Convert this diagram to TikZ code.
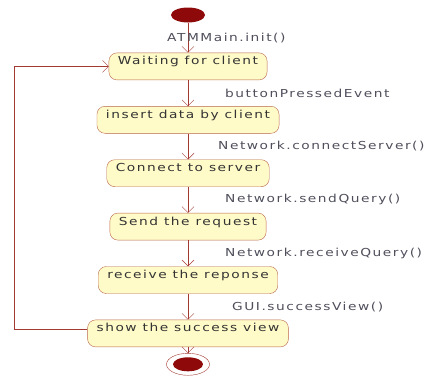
\documentclass[tikz,border=0pt]{standalone}
\usepackage{fontspec}
\newfontfamily\umlfont[LetterSpace=14, FakeStretch=1.25]{DejaVu Sans}
\usetikzlibrary{positioning,shapes.geometric,arrows.meta}
\definecolor{umlline}{HTML}{A33A32}
\definecolor{umlfill}{HTML}{FFFBC8}
\definecolor{umlborder}{HTML}{B8674A}
\definecolor{umldot}{HTML}{8E0A0A}
\definecolor{umltext}{HTML}{4F4F5C}

\begin{document}
\begin{tikzpicture}[x=1pt, y=1pt,
      state/.style = {draw=umlborder, fill=umlfill, rounded corners=8pt,
        font=\umlfont\fontsize{11}{13}\selectfont, text=black!80,
        text height=9pt, text depth=12pt, inner ysep=3pt, inner xsep=9pt},
      startdot/.style = {ellipse, fill=umldot, minimum width=34pt,
        minimum height=15pt, inner sep=0pt},
      enddot/.style = {ellipse, draw=umlline, fill=white, minimum width=43pt,
        minimum height=22pt, inner sep=0pt},
      enddotin/.style = {ellipse, fill=umldot, minimum width=30pt,
        minimum height=14pt, inner sep=0pt},
      flow/.style = {draw=umlline, -{Straight Barb[length=6pt, width=12pt]}},
      lbl/.style = {font=\umlfont\fontsize{11}{13}\selectfont, text=umltext,
        inner sep=0pt, anchor=west},
      node distance = 26pt]
      \useasboundingbox (0,0) rectangle (436,-380);

      \node[startdot] (start) at (188,-15) {};
      \node[state] (wait) [below=30pt of start] {Waiting for client};
      \node[state] (insert) [below=of wait] {insert data by client};
      \node[state] (connect) [below=of insert] {Connect to server};
      \node[state] (send) [below=of connect] {Send the request};
      \node[state] (receive) [below=of send] {receive the reponse};
      \node[state] (show) [below=of receive] {show the success view};
      \node[enddot] (end) [below=6pt of show] {};
      \node[enddotin] (endin) at (end) {};
      \coordinate (side) at (14,0);

      \draw[flow] (start) -- node[lbl, xshift=-21pt] {ATMMain.init()} (wait);
      \draw[flow] (wait) -- node[lbl, xshift=37pt] {buttonPressedEvent} (insert);
      \draw[flow] (insert) -- node[lbl, xshift=30pt] {Network.connectServer()} (connect);
      \draw[flow] (connect) -- node[lbl, xshift=37pt] {Network.sendQuery()} (send);
      \draw[flow] (send) -- node[lbl, xshift=37pt] {Network.receiveQuery()} (receive);
      \draw[flow] (receive) -- node[lbl, xshift=44pt] {GUI.successView()} (show);
      \draw[flow] (show) -- (end);
      \draw[flow] ([yshift=4pt]show.west) -- ([yshift=4pt]show.west -| side)
        |- (wait.west);
    \end{tikzpicture}
\end{document}
